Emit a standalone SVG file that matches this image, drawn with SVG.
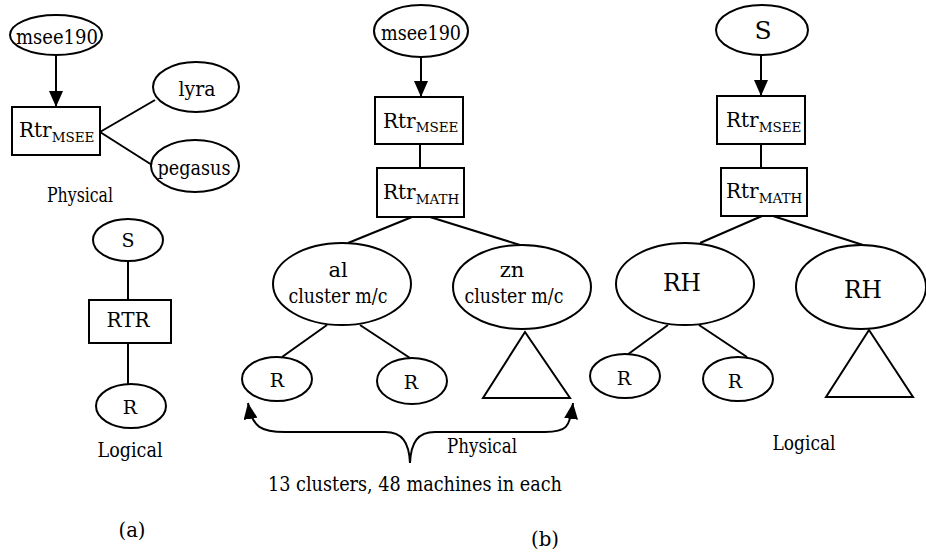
<svg xmlns="http://www.w3.org/2000/svg" width="926" height="552" viewBox="0 0 926 552">
<style>
  .n { fill: #fff; stroke: #000; stroke-width: 2; }
  .e { fill: none; stroke: #000; stroke-width: 2; }
  text { font-family: 'DejaVu Serif', 'Liberation Serif', serif; fill: #000; text-anchor: middle; }
  .t22 { font-size: 21px; }
  .t20 { font-size: 19px; }
  .lab { font-size: 20px; }
  .sub { font-size: 13.5px; }
  .rtr { text-anchor: start; font-size: 20px; }
  .big { font-size: 25px; }
</style>
<defs>
  <marker id="ah" viewBox="0 0 16 14" refX="16" refY="7" markerWidth="16" markerHeight="14" markerUnits="userSpaceOnUse" orient="auto-start-reverse">
    <path d="M0,0 L16,7 L0,14 z" fill="#000"/>
  </marker>
</defs>

<g id="connectors">
  <line class="e" x1="56" y1="55" x2="56" y2="107" marker-end="url(#ah)"/>
  <line class="e" x1="100" y1="132" x2="155" y2="100"/>
  <line class="e" x1="100" y1="132" x2="152" y2="165"/>
  <line class="e" x1="128" y1="261" x2="128" y2="300"/>
  <line class="e" x1="128" y1="343" x2="128" y2="384"/>

  <line class="e" x1="421" y1="57" x2="421" y2="97" marker-end="url(#ah)"/>
  <line class="e" x1="420" y1="144" x2="420" y2="168"/>
  <line class="e" x1="412" y1="217" x2="348" y2="243"/>
  <line class="e" x1="430" y1="217" x2="520" y2="245"/>
  <line class="e" x1="327" y1="325" x2="282" y2="357"/>
  <line class="e" x1="360" y1="325" x2="410" y2="358"/>
  <path class="e" d="M 248,403 C 252,428 262,432 285,432 L 385,432 C 402,432 409,442 410,463 C 411,442 418,432 435,432 L 545,432 C 566,432 570,428 573,403" marker-start="url(#ah)" marker-end="url(#ah)"/>

  <line class="e" x1="761" y1="55" x2="761" y2="96" marker-end="url(#ah)"/>
  <line class="e" x1="761" y1="144" x2="761" y2="168"/>
  <line class="e" x1="762" y1="216" x2="700" y2="243"/>
  <line class="e" x1="773" y1="216" x2="863" y2="245"/>
  <line class="e" x1="668" y1="325" x2="627" y2="355"/>
  <line class="e" x1="699" y1="325" x2="747" y2="357"/>
</g>

<g id="a-msee190"><ellipse class="n" cx="56" cy="35" rx="46" ry="20"/><text class="t22" x="57" y="44" textLength="82" lengthAdjust="spacingAndGlyphs">msee190</text></g>
<g id="a-rtr-msee"><rect class="n" x="12" y="107" width="88" height="48"/><text class="rtr" x="19" y="137">Rtr<tspan class="sub" dy="5">MSEE</tspan></text></g>
<g id="a-lyra"><ellipse class="n" cx="196" cy="87" rx="43" ry="25"/><text class="t22" x="197" y="96" textLength="37" lengthAdjust="spacingAndGlyphs">lyra</text></g>
<g id="a-pegasus"><ellipse class="n" cx="195" cy="166" rx="44" ry="26"/><text class="t22" x="194" y="175" textLength="73" lengthAdjust="spacingAndGlyphs">pegasus</text></g>
<g id="a-S"><ellipse class="n" cx="128" cy="240" rx="35" ry="21"/><text class="t20" x="128" y="247">S</text></g>
<g id="a-RTR"><rect class="n" x="89" y="300" width="82" height="43"/><text class="t22" x="128" y="327" textLength="43" lengthAdjust="spacingAndGlyphs">RTR</text></g>
<g id="a-R"><ellipse class="n" cx="131" cy="406" rx="35" ry="22"/><text class="t20" x="130" y="414">R</text></g>

<g id="b-msee190"><ellipse class="n" cx="421" cy="31" rx="47" ry="26"/><text class="t22" x="421" y="40" textLength="80" lengthAdjust="spacingAndGlyphs">msee190</text></g>
<g id="b-rtr-msee"><rect class="n" x="375" y="97" width="88" height="47"/><text class="rtr" x="383" y="128">Rtr<tspan class="sub" dy="4">MSEE</tspan></text></g>
<g id="b-rtr-math"><rect class="n" x="377" y="168" width="87" height="49"/><text class="rtr" x="383" y="199">Rtr<tspan class="sub" dy="5">MATH</tspan></text></g>
<g id="b-al"><ellipse class="n" cx="342" cy="284" rx="69" ry="41"/><text class="t22" x="338" y="277">al</text><text class="t22" x="338" y="303" textLength="99" lengthAdjust="spacingAndGlyphs">cluster m/c</text></g>
<g id="b-zn"><ellipse class="n" cx="522" cy="287" rx="69" ry="42"/><text class="t22" x="512" y="277">zn</text><text class="t22" x="514" y="303" textLength="99" lengthAdjust="spacingAndGlyphs">cluster m/c</text></g>
<g id="b-R1"><ellipse class="n" cx="277" cy="379" rx="35" ry="22"/><text class="t20" x="277" y="387">R</text></g>
<g id="b-R2"><ellipse class="n" cx="412" cy="381" rx="35" ry="23"/><text class="t20" x="411" y="389">R</text></g>
<g id="b-tri"><polygon class="n" points="525,332 483,398 570,398"/></g>

<g id="c-S"><ellipse class="n" cx="762" cy="30" rx="46" ry="25"/><text class="big" x="763" y="39">S</text></g>
<g id="c-rtr-msee"><rect class="n" x="717" y="96" width="88" height="48"/><text class="rtr" x="726" y="127">Rtr<tspan class="sub" dy="5">MSEE</tspan></text></g>
<g id="c-rtr-math"><rect class="n" x="721" y="168" width="86" height="48"/><text class="rtr" x="726" y="198">Rtr<tspan class="sub" dy="5">MATH</tspan></text></g>
<g id="c-RH1"><ellipse class="n" cx="685" cy="284" rx="69" ry="41"/><text class="big" x="682" y="291" textLength="38" lengthAdjust="spacingAndGlyphs">RH</text></g>
<g id="c-RH2"><ellipse class="n" cx="861" cy="287" rx="65" ry="42"/><text class="big" x="863" y="298" textLength="38" lengthAdjust="spacingAndGlyphs">RH</text></g>
<g id="c-R1"><ellipse class="n" cx="625" cy="376" rx="35" ry="22"/><text class="t20" x="624" y="385">R</text></g>
<g id="c-R2"><ellipse class="n" cx="738" cy="379" rx="35" ry="22"/><text class="t20" x="735" y="388">R</text></g>
<g id="c-tri"><polygon class="n" points="869,330 826,397 913,397"/></g>

<g id="labels">
  <text class="lab" x="80" y="202" textLength="66" lengthAdjust="spacingAndGlyphs">Physical</text>
  <text class="lab" x="130" y="457" textLength="65" lengthAdjust="spacingAndGlyphs">Logical</text>
  <text class="lab" x="482" y="453" textLength="70" lengthAdjust="spacingAndGlyphs">Physical</text>
  <text class="lab" x="804" y="450" textLength="63" lengthAdjust="spacingAndGlyphs">Logical</text>
  <text x="415" y="491" style="font-size:21px" textLength="294" lengthAdjust="spacingAndGlyphs">13 clusters, 48 machines in each</text>
  <text class="lab" x="132" y="537" textLength="27" lengthAdjust="spacingAndGlyphs">(a)</text>
  <text class="lab" x="545" y="546" textLength="28" lengthAdjust="spacingAndGlyphs">(b)</text>
</g>
</svg>
